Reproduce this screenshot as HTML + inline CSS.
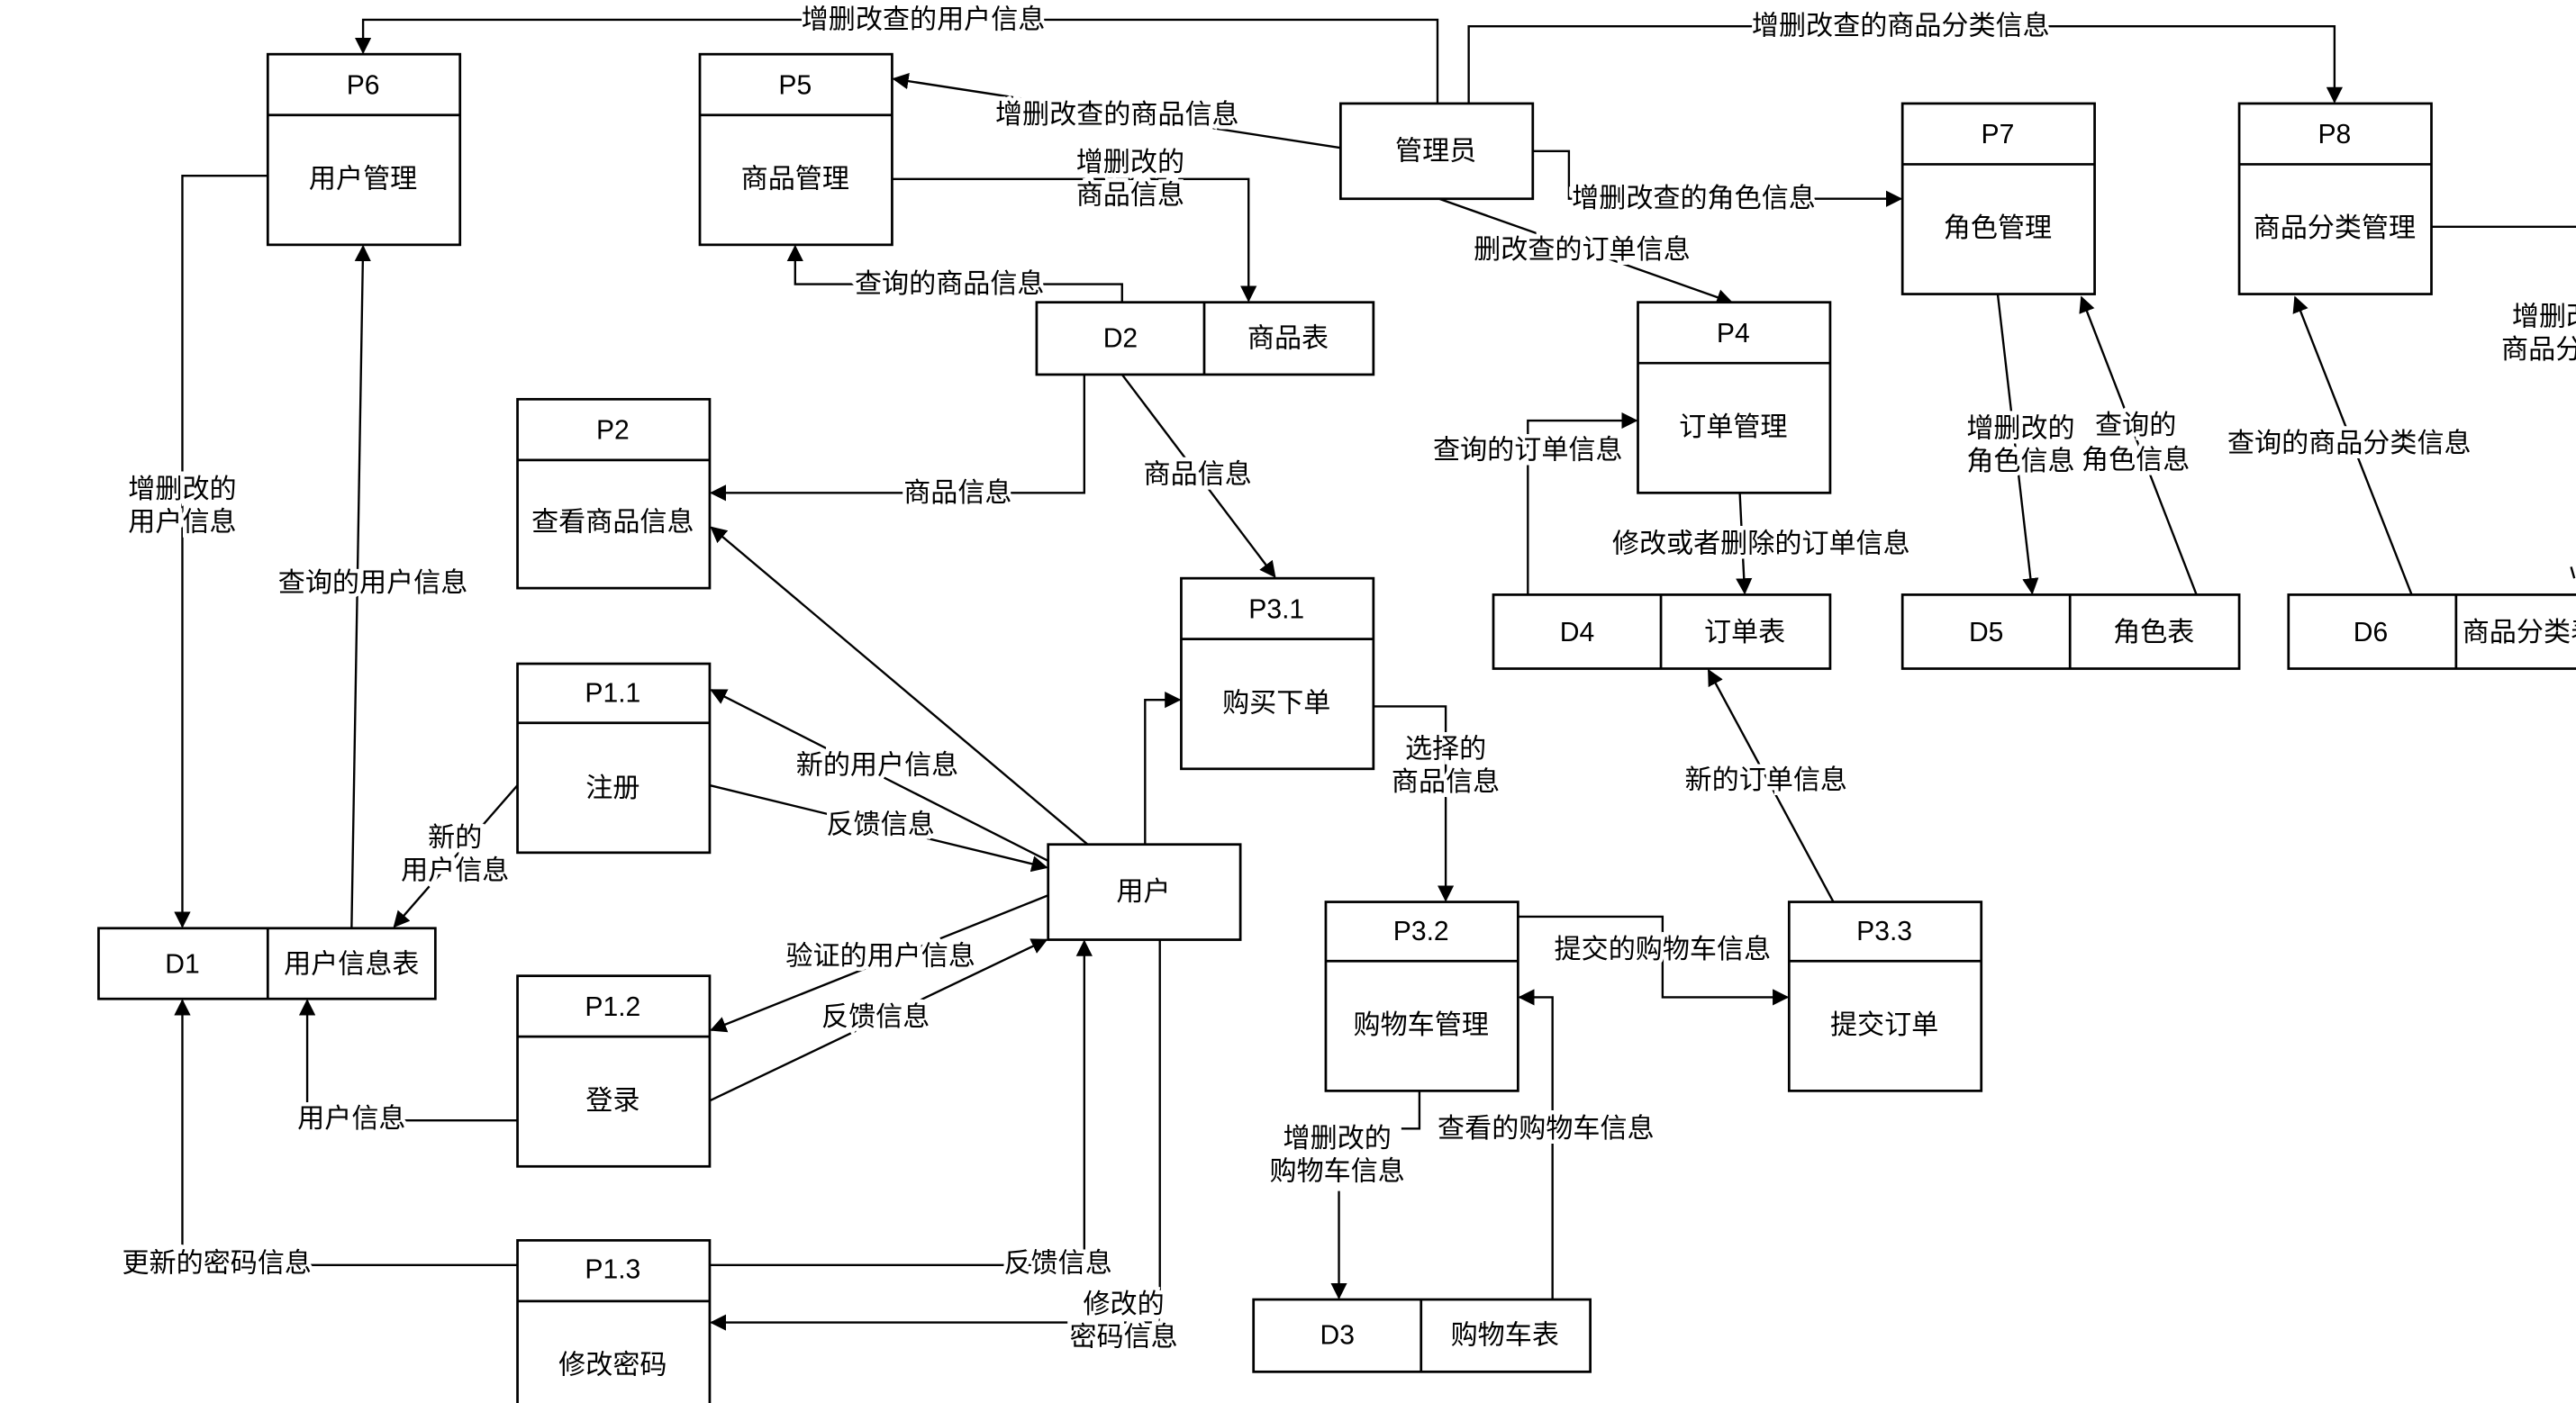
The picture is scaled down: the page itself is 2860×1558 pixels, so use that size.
<!DOCTYPE html>
<html><head><meta charset="utf-8">
<style>
html,body{margin:0;padding:0;background:#fff;}
svg{display:block;}
text{font-family:"Liberation Sans","Noto Sans CJK SC",sans-serif;font-size:16.5px;fill:#000;text-anchor:middle;dominant-baseline:central;}
.l{paint-order:stroke;stroke:#fff;stroke-width:5px;}
</style></head><body>
<svg width="2860" height="1558" viewBox="0 0 1568 854" preserveAspectRatio="none" xmlns="http://www.w3.org/2000/svg">
<defs><marker id="a" markerWidth="10" markerHeight="10" refX="9" refY="5" orient="auto" markerUnits="userSpaceOnUse"><path d="M0,0 L10,5 L0,10 Z" fill="#000"/></marker></defs>
<rect x="0" y="0" width="1568" height="854" fill="#fff"/>
<g fill="none" stroke="#000" stroke-width="1.3">
<path d="M875,63 V12 H221 V32" marker-end="url(#a)"/>
<path d="M894,63 V16 H1421 V62" marker-end="url(#a)"/>
<path d="M816,90 L544,48" marker-end="url(#a)"/>
<path d="M933,92 H955 V121 H1157" marker-end="url(#a)"/>
<path d="M876,121 L1054,184" marker-end="url(#a)"/>
<path d="M543,109 H760 V183" marker-end="url(#a)"/>
<path d="M683,184 V173 H484 V150" marker-end="url(#a)"/>
<path d="M660,228 V300 H433" marker-end="url(#a)"/>
<path d="M683,228 L776,351" marker-end="url(#a)"/>
<path d="M163,107 H111 V564" marker-end="url(#a)"/>
<path d="M214,565 L221,150" marker-end="url(#a)"/>
<path d="M315,478 L240,564" marker-end="url(#a)"/>
<path d="M662,514 L433,321" marker-end="url(#a)"/>
<path d="M638,524 L433,420" marker-end="url(#a)"/>
<path d="M432,478 L637,528" marker-end="url(#a)"/>
<path d="M638,545 L433,627" marker-end="url(#a)"/>
<path d="M432,670 L637,572" marker-end="url(#a)"/>
<path d="M315,682 H187 V609" marker-end="url(#a)"/>
<path d="M315,770 H111 V609" marker-end="url(#a)"/>
<path d="M432,770 H660 V573" marker-end="url(#a)"/>
<path d="M706,572 V805 H433" marker-end="url(#a)"/>
<path d="M697,514 V426 H718" marker-end="url(#a)"/>
<path d="M836,430 H880 V548" marker-end="url(#a)"/>
<path d="M924,558 H1012 V607 H1088" marker-end="url(#a)"/>
<path d="M864,664 V687 H853"/>
<path d="M815,725 V790" marker-end="url(#a)"/>
<path d="M945,791 V607 H925" marker-end="url(#a)"/>
<path d="M1116,549 L1040,408" marker-end="url(#a)"/>
<path d="M930,362 V256 H996" marker-end="url(#a)"/>
<path d="M1059,300 L1062,361" marker-end="url(#a)"/>
<path d="M1216,179 L1237,361" marker-end="url(#a)"/>
<path d="M1337,362 L1267,181" marker-end="url(#a)"/>
<path d="M1468,362 L1397,181" marker-end="url(#a)"/>
<path d="M1480,138 H1568"/>
<path d="M1565,345 L1567,352"/>
</g>
<g fill="#fff" stroke="#000" stroke-width="1.5">
<rect x="163" y="33" width="117" height="116"/><line x1="163" y1="70" x2="280" y2="70"/>
<rect x="426" y="33" width="117" height="116"/><line x1="426" y1="70" x2="543" y2="70"/>
<rect x="816" y="63" width="117" height="58"/>
<rect x="1158" y="63" width="117" height="116"/><line x1="1158" y1="100" x2="1275" y2="100"/>
<rect x="1363" y="63" width="117" height="116"/><line x1="1363" y1="100" x2="1480" y2="100"/>
<rect x="997" y="184" width="117" height="116"/><line x1="997" y1="221" x2="1114" y2="221"/>
<rect x="315" y="243" width="117" height="115"/><line x1="315" y1="280" x2="432" y2="280"/>
<rect x="719" y="352" width="117" height="116"/><line x1="719" y1="389" x2="836" y2="389"/>
<rect x="315" y="404" width="117" height="115"/><line x1="315" y1="440" x2="432" y2="440"/>
<rect x="638" y="514" width="117" height="58"/>
<rect x="807" y="549" width="117" height="115"/><line x1="807" y1="585" x2="924" y2="585"/>
<rect x="1089" y="549" width="117" height="115"/><line x1="1089" y1="585" x2="1206" y2="585"/>
<rect x="315" y="594" width="117" height="116"/><line x1="315" y1="631" x2="432" y2="631"/>
<rect x="315" y="755" width="117" height="110"/><line x1="315" y1="792" x2="432" y2="792"/>
<rect x="631" y="184" width="205" height="44"/><line x1="733" y1="184" x2="733" y2="228"/>
<rect x="909" y="362" width="205" height="45"/><line x1="1011" y1="362" x2="1011" y2="407"/>
<rect x="1158" y="362" width="205" height="45"/><line x1="1260" y1="362" x2="1260" y2="407"/>
<rect x="1393" y="362" width="190" height="45"/><line x1="1495" y1="362" x2="1495" y2="407"/>
<rect x="60" y="565" width="205" height="43"/><line x1="163" y1="565" x2="163" y2="608"/>
<rect x="763" y="791" width="205" height="44"/><line x1="865" y1="791" x2="865" y2="835"/>
</g>
<g>
<text x="221" y="52">P6</text><text x="221" y="109">用户管理</text>
<text x="484" y="52">P5</text><text x="484" y="109">商品管理</text>
<text x="874" y="92">管理员</text>
<text x="1216" y="82">P7</text><text x="1216" y="139">角色管理</text>
<text x="1421" y="82">P8</text><text x="1421" y="139">商品分类管理</text>
<text x="1055" y="203">P4</text><text x="1055" y="260">订单管理</text>
<text x="373" y="262">P2</text><text x="373" y="318">查看商品信息</text>
<text x="777" y="371">P3.1</text><text x="777" y="428">购买下单</text>
<text x="373" y="422">P1.1</text><text x="373" y="480">注册</text>
<text x="696" y="543">用户</text>
<text x="865" y="567">P3.2</text><text x="865" y="624">购物车管理</text>
<text x="1147" y="567">P3.3</text><text x="1147" y="624">提交订单</text>
<text x="373" y="613">P1.2</text><text x="373" y="670">登录</text>
<text x="373" y="773">P1.3</text><text x="373" y="831">修改密码</text>
<text x="682" y="206">D2</text><text x="784" y="206">商品表</text>
<text x="960" y="385">D4</text><text x="1062" y="385">订单表</text>
<text x="1209" y="385">D5</text><text x="1311" y="385">角色表</text>
<text x="1443" y="385">D6</text><text x="1540" y="385">商品分类表</text>
<text x="111" y="587">D1</text><text x="214" y="587">用户信息表</text>
<text x="814" y="813">D3</text><text x="916" y="813">购物车表</text>
</g>
<g>
<text class="l" x="562" y="12">增删改查的用户信息</text>
<text class="l" x="1157" y="16">增删改查的商品分类信息</text>
<text class="l" x="680" y="70">增删改查的商品信息</text>
<text class="l" x="1031" y="121">增删改查的角色信息</text>
<text class="l" x="963" y="152">删改查的订单信息</text>
<text class="l" x="688" y="99">增删改的</text><text class="l" x="688" y="119">商品信息</text>
<text class="l" x="578" y="173">查询的商品信息</text>
<text class="l" x="583" y="300">商品信息</text>
<text class="l" x="729" y="289">商品信息</text>
<text class="l" x="111" y="298">增删改的</text><text class="l" x="111" y="318">用户信息</text>
<text class="l" x="227" y="355">查询的用户信息</text>
<text class="l" x="277" y="510">新的</text><text class="l" x="277" y="530">用户信息</text>
<text class="l" x="534" y="466">新的用户信息</text>
<text class="l" x="536" y="502">反馈信息</text>
<text class="l" x="536" y="582">验证的用户信息</text>
<text class="l" x="533" y="619">反馈信息</text>
<text class="l" x="214" y="681">用户信息</text>
<text class="l" x="132" y="769">更新的密码信息</text>
<text class="l" x="644" y="769">反馈信息</text>
<text class="l" x="684" y="794">修改的</text><text class="l" x="684" y="814">密码信息</text>
<text class="l" x="880" y="456">选择的</text><text class="l" x="880" y="476">商品信息</text>
<text class="l" x="1012" y="578">提交的购物车信息</text>
<text class="l" x="814" y="693">增删改的</text><text class="l" x="814" y="713">购物车信息</text>
<text class="l" x="941" y="687">查看的购物车信息</text>
<text class="l" x="1075" y="475">新的订单信息</text>
<text class="l" x="930" y="274">查询的订单信息</text>
<text class="l" x="1072" y="331">修改或者删除的订单信息</text>
<text class="l" x="1230" y="261">增删改的</text><text class="l" x="1230" y="281">角色信息</text>
<text class="l" x="1300" y="259">查询的</text><text class="l" x="1300" y="280">角色信息</text>
<text class="l" x="1430" y="270">查询的商品分类信息</text>
<text class="l" x="1562" y="193">增删改的</text><text class="l" x="1572" y="213">商品分类信息</text>
</g>
</svg>
</body></html>
